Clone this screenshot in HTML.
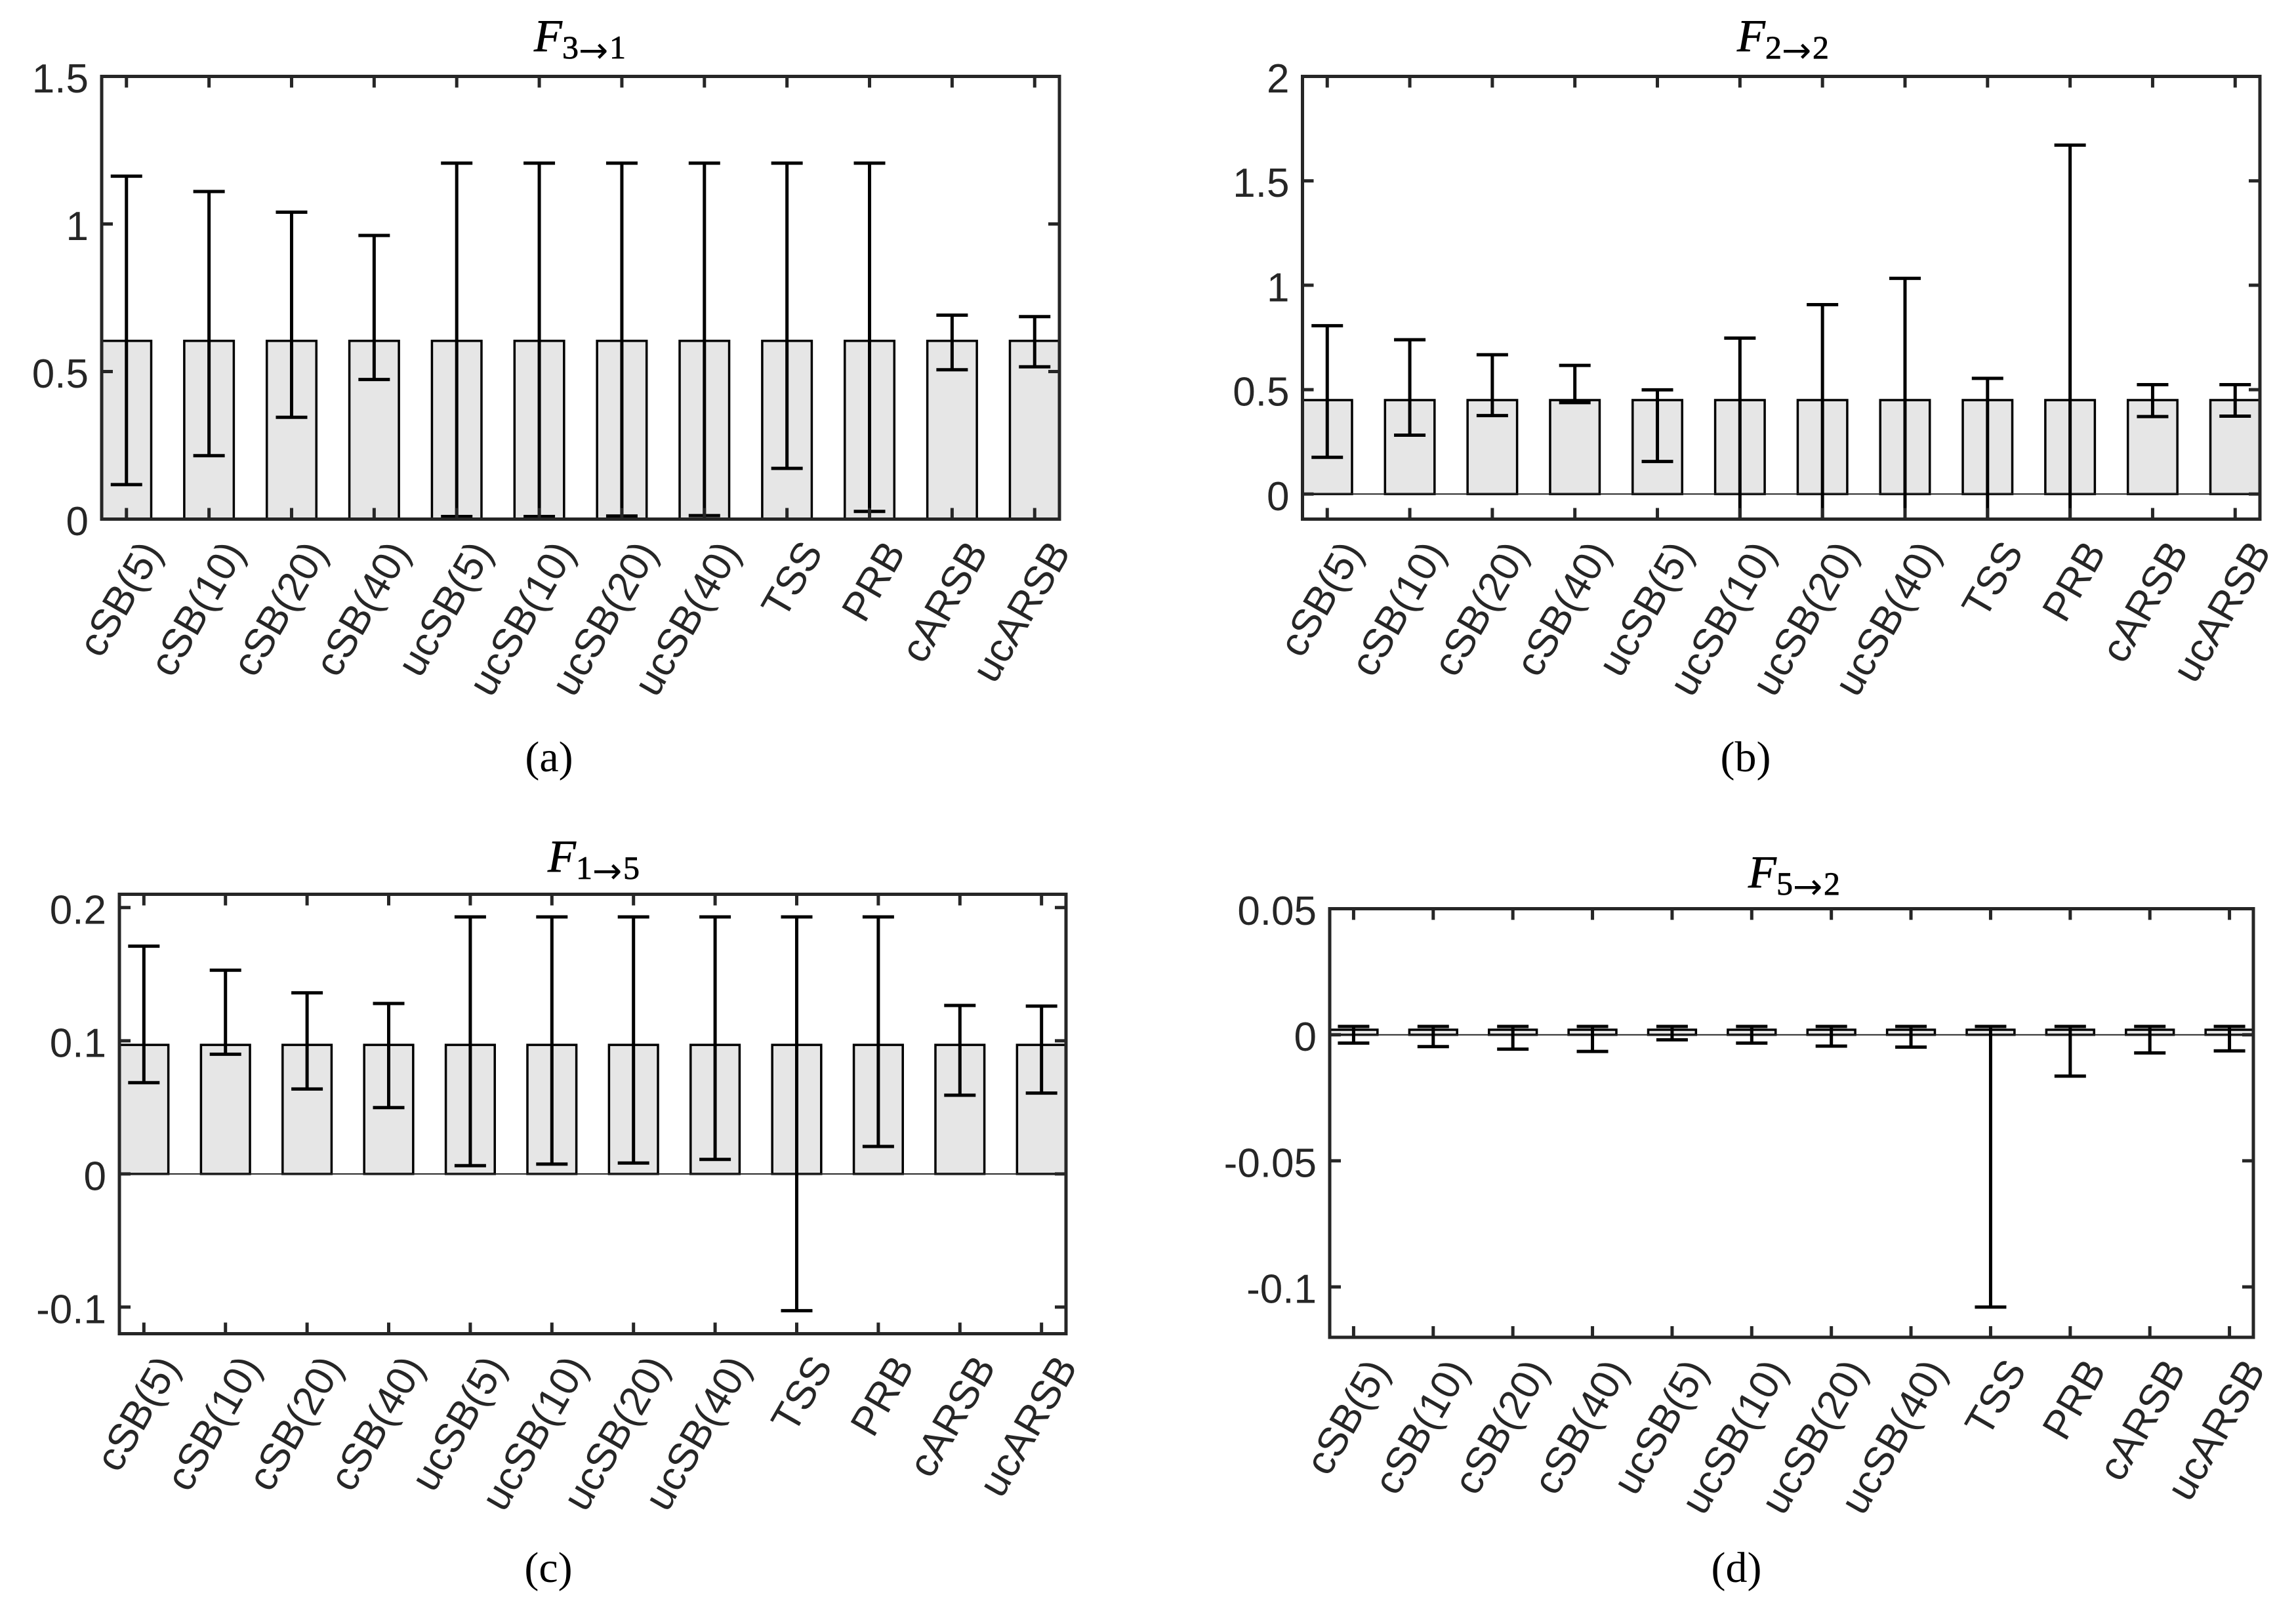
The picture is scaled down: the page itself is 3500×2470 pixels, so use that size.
<!DOCTYPE html>
<html lang="en">
<head>
<meta charset="utf-8">
<title>Bar charts with error bars</title>
<style>
html,body{margin:0;padding:0;background:#fff;}
svg{display:block;}
.tick-label{font-family:"Liberation Sans",Arial,sans-serif;font-size:62px;fill:#262626;}
.title-text{font-family:"Liberation Serif","Times New Roman",serif;fill:#000;stroke:#000;stroke-width:0.8px;}
.title-main{font-size:70px;font-style:italic;}
.title-sub{font-size:50px;}
.title-arrow{font-family:"DejaVu Sans",sans-serif;font-size:54px;stroke-width:0;}
.caption{font-family:"Liberation Serif","Times New Roman",serif;font-size:66px;fill:#000;text-anchor:middle;}
</style>
</head>
<body>
<svg id="figure" xmlns="http://www.w3.org/2000/svg" width="3500" height="2470" viewBox="0 0 3500 2470">
  <rect x="0" y="0" width="3500" height="2470" fill="#fff"/>

  <g id="panel-a"></g>
  <g id="panel-b"></g>
  <g id="panel-c"></g>
  <g id="panel-d"></g>

  <text class="title-text"><tspan class="title-main" x="814" y="78">F</tspan><tspan class="title-sub" x="857" y="89">3</tspan><tspan class="title-arrow" x="882" y="95">→</tspan><tspan class="title-sub" x="929" y="89">1</tspan></text>
  <text class="title-text"><tspan class="title-main" x="2648" y="78">F</tspan><tspan class="title-sub" x="2691" y="89">2</tspan><tspan class="title-arrow" x="2716" y="95">→</tspan><tspan class="title-sub" x="2763" y="89">2</tspan></text>
  <text class="title-text"><tspan class="title-main" x="835" y="1329">F</tspan><tspan class="title-sub" x="878" y="1340">1</tspan><tspan class="title-arrow" x="903" y="1346">→</tspan><tspan class="title-sub" x="950" y="1340">5</tspan></text>
  <text class="title-text"><tspan class="title-main" x="2665" y="1353">F</tspan><tspan class="title-sub" x="2708" y="1364">5</tspan><tspan class="title-arrow" x="2733" y="1370">→</tspan><tspan class="title-sub" x="2780" y="1364">2</tspan></text>

  <text class="caption" x="837" y="1176">(a)</text>
  <text class="caption" x="2661" y="1176">(b)</text>
  <text class="caption" x="836" y="2412">(c)</text>
  <text class="caption" x="2647" y="2412">(d)</text>
</svg>

<script>
var categories = ['cSB(5)', 'cSB(10)', 'cSB(20)', 'cSB(40)', 'ucSB(5)', 'ucSB(10)', 'ucSB(20)', 'ucSB(40)', 'TSS', 'PRB', 'cARSB', 'ucARSB'];

var barsA = [0.604, 0.604, 0.604, 0.604, 0.604, 0.604, 0.604, 0.604, 0.604, 0.604, 0.604, 0.604];
var upperA = [1.162, 1.110, 1.040, 0.961, 1.206, 1.206, 1.206, 1.206, 1.206, 1.206, 0.691, 0.686];
var lowerA = [0.117, 0.215, 0.345, 0.473, 0.009, 0.009, 0.0105, 0.012, 0.172, 0.026, 0.506, 0.516];
var yTicksA = [0, 0.5, 1, 1.5];
var yLabelsA = ['0', '0.5', '1', '1.5'];

var barsB = [0.45, 0.45, 0.45, 0.45, 0.45, 0.45, 0.45, 0.45, 0.45, 0.45, 0.45, 0.45];
var upperB = [0.806, 0.739, 0.667, 0.616, 0.499, 0.747, 0.907, 1.033, 0.554, 1.671, 0.524, 0.524];
var lowerB = [0.176, 0.282, 0.376, 0.438, 0.156, -0.2, -0.2, -0.2, -0.2, -0.2, 0.371, 0.373];
var yTicksB = [0, 0.5, 1, 1.5, 2];
var yLabelsB = ['0', '0.5', '1', '1.5', '2'];

var barsC = [0.0969, 0.0969, 0.0969, 0.0969, 0.0969, 0.0969, 0.0969, 0.0969, 0.0969, 0.0969, 0.0969, 0.0969];
var upperC = [0.171, 0.153, 0.136, 0.128, 0.193, 0.193, 0.193, 0.193, 0.193, 0.193, 0.1265, 0.126];
var lowerC = [0.0685, 0.0899, 0.0638, 0.0498, 0.0062, 0.0074, 0.0082, 0.0109, -0.1027, 0.0206, 0.0591, 0.0607];
var yTicksC = [-0.1, 0, 0.1, 0.2];
var yLabelsC = ['-0.1', '0', '0.1', '0.2'];

var barsD = [0.002, 0.002, 0.002, 0.002, 0.002, 0.002, 0.002, 0.002, 0.002, 0.002, 0.002, 0.002];
var upperD = [0.0033, 0.0033, 0.0033, 0.0033, 0.0033, 0.0033, 0.0033, 0.0033, 0.0033, 0.0033, 0.0033, 0.0033];
var lowerD = [-0.0033, -0.0047, -0.0057, -0.0066, -0.002, -0.0033, -0.0045, -0.0049, -0.108, -0.0164, -0.0072, -0.0064];
var yTicksD = [-0.1, -0.05, 0, 0.05];
var yLabelsD = ['-0.1', '-0.05', '0', '0.05'];

var SVGNS = 'http://www.w3.org/2000/svg';

function mk(parent, tag, attrs) {
  var el = document.createElementNS(SVGNS, tag);
  for (var k in attrs) { el.setAttribute(k, attrs[k]); }
  parent.appendChild(el);
  return el;
}

function drawPanel(id, box, yMin, yMax, bars, upper, lower, yTicks, yLabels) {
  var root = document.getElementById(id);
  var xMin = 0.7, xMax = 12.3;
  function X(v) { return box.left + (v - xMin) / (xMax - xMin) * (box.right - box.left); }
  function Y(v) { return box.bottom - (v - yMin) / (yMax - yMin) * (box.bottom - box.top); }
  var ink = '#262626';

  var clip = mk(root, 'clipPath', { id: id + '-clip' });
  
  
  var clipRect = mk(clip, 'rect', { x: box.left, y: box.top, width: box.right - box.left, height: box.bottom - box.top });
  
  

  var plot = mk(root, 'g', { 'clip-path': 'url(#' + id + '-clip)' });
  
  

  var barWidth = 0.6;
  categories.forEach(function (cat, i) {
    var v = bars[i];
    var x0 = X(i + 1 - barWidth / 2), x1 = X(i + 1 + barWidth / 2);
    var y0 = Y(Math.max(v, 0)), y1 = Y(Math.min(v, 0));
    var bar = mk(plot, 'rect', { x: x0, y: y0, width: x1 - x0, height: y1 - y0, fill: '#e6e6e6', stroke: '#000', 'stroke-width': 3.5 });
    
    
  });

  var baseline = mk(plot, 'line', { x1: box.left, x2: box.right, y1: Y(0), y2: Y(0), stroke: ink, 'stroke-width': 2 });
  
  

  var capHalf = 24;
  categories.forEach(function (cat, i) {
    var cx = X(i + 1);
    var eg = mk(plot, 'g', { stroke: '#000', 'stroke-width': 5 });
    
    
    var stem = mk(eg, 'line', { x1: cx, x2: cx, y1: Y(upper[i]), y2: Y(lower[i]) });
    
    
    var capTop = mk(eg, 'line', { x1: cx - capHalf, x2: cx + capHalf, y1: Y(upper[i]), y2: Y(upper[i]) });
    
    
    var capBottom = mk(eg, 'line', { x1: cx - capHalf, x2: cx + capHalf, y1: Y(lower[i]), y2: Y(lower[i]) });
    
    
  });

  var frame = mk(root, 'rect', { x: box.left, y: box.top, width: box.right - box.left, height: box.bottom - box.top, fill: 'none', stroke: ink, 'stroke-width': 5 });
  
  

  var tickLen = 17;
  categories.forEach(function (cat, i) {
    var cx = X(i + 1);
    var tb = mk(root, 'line', { x1: cx, x2: cx, y1: box.bottom, y2: box.bottom - tickLen, stroke: ink, 'stroke-width': 5 });
    
    
    var tt = mk(root, 'line', { x1: cx, x2: cx, y1: box.top, y2: box.top + tickLen, stroke: ink, 'stroke-width': 5 });
    
    
    var lx = cx + 56, ly = box.bottom + 50;
    var lab = mk(root, 'text', { x: lx, y: ly, 'text-anchor': 'end', transform: 'rotate(-60 ' + lx + ' ' + ly + ')', 'class': 'tick-label' });
    
    
    lab.textContent = cat;
  });

  yTicks.forEach(function (t, i) {
    var yy = Y(t);
    var tl = mk(root, 'line', { x1: box.left, x2: box.left + tickLen, y1: yy, y2: yy, stroke: ink, 'stroke-width': 5 });
    
    
    var tr = mk(root, 'line', { x1: box.right, x2: box.right - tickLen, y1: yy, y2: yy, stroke: ink, 'stroke-width': 5 });
    
    
    var lab = mk(root, 'text', { x: box.left - 20, y: yy + 24.5, 'text-anchor': 'end', 'class': 'tick-label' });
    
    
    lab.textContent = yLabels[i];
  });
}

drawPanel('panel-a', { left: 155, right: 1615, top: 116.5, bottom: 791.5 }, 0, 1.5, barsA, upperA, lowerA, yTicksA, yLabelsA);
drawPanel('panel-b', { left: 1985.5, right: 3445, top: 116.5, bottom: 791.5 }, -0.12, 2, barsB, upperB, lowerB, yTicksB, yLabelsB);
drawPanel('panel-c', { left: 182, right: 1625, top: 1363.5, bottom: 2033.5 }, -0.12, 0.21, barsC, upperC, lowerC, yTicksC, yLabelsC);
drawPanel('panel-d', { left: 2027, right: 3435, top: 1385.5, bottom: 2039 }, -0.12, 0.05, barsD, upperD, lowerD, yTicksD, yLabelsD);
</script>
</body>
</html>
